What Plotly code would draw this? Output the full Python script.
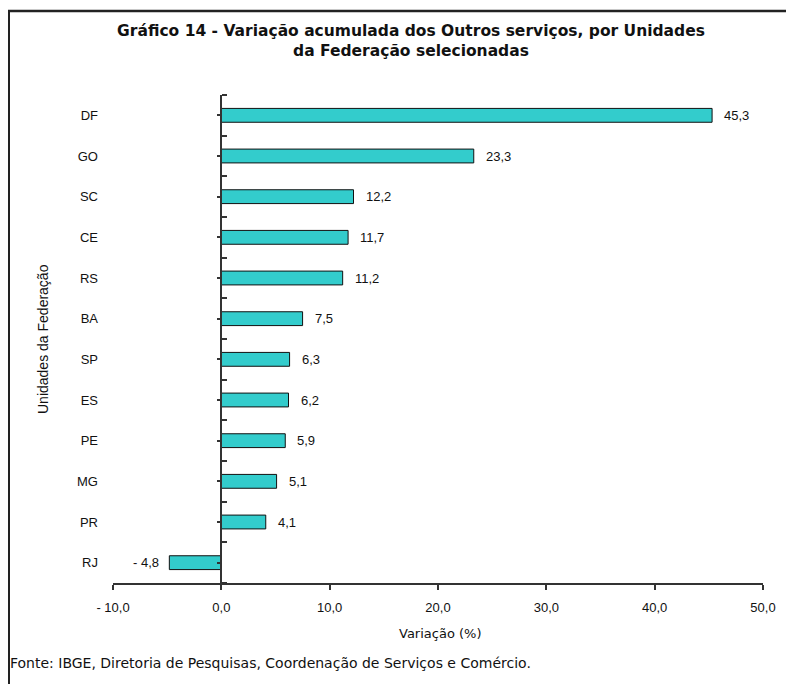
import plotly.graph_objects as go

ufs = ["DF", "GO", "SC", "CE", "RS", "BA", "SP", "ES", "PE", "MG", "PR", "RJ"]
variacao = [45.3, 23.3, 12.2, 11.7, 11.2, 7.5, 6.3, 6.2, 5.9, 5.1, 4.1, -4.8]
x_ticks = [-10, 0, 10, 20, 30, 40, 50]
x_tick_labels = ["- 10,0", "0,0", "10,0", "20,0", "30,0", "40,0", "50,0"]

title_text = ("Gráfico 14 - Variação acumulada dos Outros serviços, por Unidades"
              "<br>da Federação selecionadas")
x_title = "Variação (%)"
y_title = "Unidades da Federação"
fonte = "Fonte: IBGE, Diretoria de Pesquisas, Coordenação de Serviços e Comércio."

# page offset of the plot div inside the browser window (body margin)
OX, OY = 8, 8
W, H = 794 - OX, 684 - OY
# plot area in window pixels
PL, PR, PT, PB = 113, 763, 95, 583
ML, MR, MT, MB = PL - OX, W - (PR - OX), PT - OY, H - (PB - OY)
plot_w = PR - PL
plot_h = PB - PT


def px(xw):
    return (xw - PL) / plot_w


def py(yw):
    return (PB - yw) / plot_h


FONT = "Liberation Sans, Arial, sans-serif"
WIDE = "DejaVu Sans, sans-serif"
AXC = "#333333"

pos = list(range(len(ufs)))


def fmt(v):
    s = f"{abs(v):.1f}".replace(".", ",")
    return ("- " + s) if v < 0 else s


fig = go.Figure()
fig.add_trace(go.Bar(
    x=variacao, y=pos, orientation="h", width=0.34,
    marker=dict(color="#33CCCC", line=dict(color="#111111", width=1)),
    hoverinfo="skip",
))

for v, p in zip(variacao, pos):
    fig.add_annotation(
        x=v, y=p, xref="x", yref="y", text=fmt(v), showarrow=False,
        xanchor="left" if v >= 0 else "right",
        xshift=10 if v >= 0 else -8,
        font=dict(family=FONT, size=13, color="#111111"),
    )

y_axis_pos = (0 - x_ticks[0]) / (x_ticks[-1] - x_ticks[0])

fig.update_layout(
    width=W, height=H,
    margin=dict(l=ML, r=MR, t=MT, b=MB, autoexpand=False),
    paper_bgcolor="white", plot_bgcolor="white",
    showlegend=False,
    title=dict(text=title_text, x=(411 - OX) / W, xanchor="center", xref="container",
               y=1 - (35.5 - OY) / H, yanchor="middle", yref="container",
               font=dict(family=WIDE, size=15.5, color="#111111", weight="bold")),
    xaxis=dict(range=[x_ticks[0], x_ticks[-1]], tickvals=x_ticks, ticktext=x_tick_labels,
               showline=True, linecolor=AXC, linewidth=1.5, ticks="outside", ticklen=5,
               tickcolor=AXC, tickwidth=1.5, showgrid=False, zeroline=False,
               automargin=False, ticklabelstandoff=7,
               tickfont=dict(family=FONT, size=13, color="#111111")),
    yaxis=dict(range=[len(ufs) - 0.5, -0.5], tickvals=pos, ticktext=ufs,
               anchor="free", position=y_axis_pos, automargin=False,
               showline=True, linecolor=AXC, linewidth=1.5, ticks="outside", ticklen=4,
               tickcolor=AXC, tickwidth=1.5, showgrid=False, zeroline=False,
               ticklabelstandoff=116,
               minor=dict(tick0=-0.5, dtick=1, ticks="inside", ticklen=5,
                          tickcolor=AXC, tickwidth=1.5, showgrid=False),
               tickfont=dict(family=FONT, size=13, color="#111111")),
)

fig.add_annotation(text=y_title, xref="paper", yref="paper",
                   x=px(43), y=0.5, xanchor="center", yanchor="middle",
                   textangle=-90, showarrow=False,
                   font=dict(family=FONT, size=14, color="#111111"))
fig.add_annotation(text=x_title, xref="paper", yref="paper",
                   x=px(440), y=py(633),
                   xanchor="center", yanchor="middle", showarrow=False,
                   font=dict(family=WIDE, size=13, color="#111111"))
fig.add_annotation(text=fonte, xref="paper", yref="paper",
                   x=px(8), y=py(663),
                   xanchor="left", yanchor="middle", showarrow=False,
                   font=dict(family=WIDE, size=14, color="#111111"))

# outer frame (top and left edges visible in the reference)
fig.add_shape(type="line", xref="paper", yref="paper",
              x0=px(8), x1=px(800), y0=py(11), y1=py(11),
              line=dict(color="#222222", width=2.5))
fig.add_shape(type="line", xref="paper", yref="paper",
              x0=px(9), x1=px(9), y0=py(11), y1=py(700),
              line=dict(color="#222222", width=2))

fig.write_html("out.html")
